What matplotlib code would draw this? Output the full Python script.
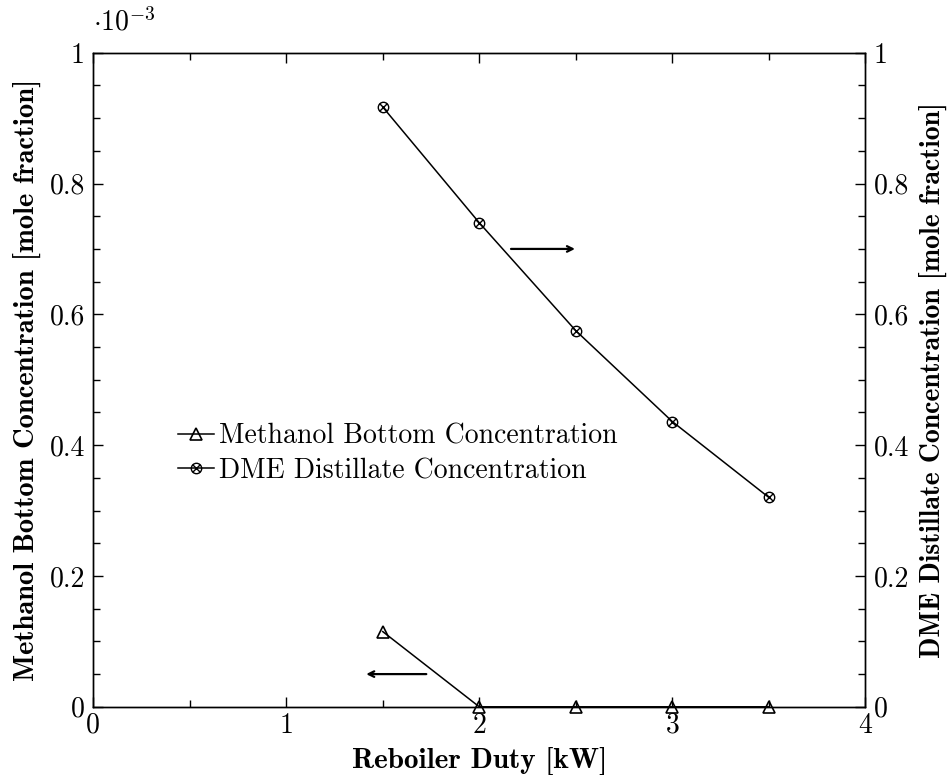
import numpy as np
import matplotlib
matplotlib.use("Agg")
import matplotlib.pyplot as plt
from matplotlib.path import Path
from matplotlib.ticker import MultipleLocator

plt.rcParams['font.family'] = ['cmr10', 'DejaVu Serif']
plt.rcParams['mathtext.fontset'] = 'cm'
plt.rcParams['axes.formatter.use_mathtext'] = True

# reboiler duty [kW]
duty = [1.5, 2.0, 2.5, 3.0, 3.5]
# methanol in bottoms [mole fraction, x1e-3]
methanol_bottom = [0.115, 0.0, 0.0, 0.0, 0.0]
# DME in distillate [mole fraction]
dme_distillate = [0.917, 0.740, 0.575, 0.436, 0.320]

# circle with a cross inside
_d = np.sqrt(0.5)
otimes = Path.make_compound_path(
    Path.unit_circle(),
    Path([(-_d, -_d), (_d, _d)], [Path.MOVETO, Path.LINETO]),
    Path([(-_d, _d), (_d, -_d)], [Path.MOVETO, Path.LINETO]),
)

fig = plt.figure(figsize=(9.5, 7.75), dpi=100)
ax = fig.add_axes([0.098, 0.088, 0.813, 0.844])
ax2 = ax.twinx()

l1, = ax.plot(duty, methanol_bottom, color='black', lw=1.1, marker='^',
              markersize=8, markerfacecolor='none', markeredgewidth=1.2,
              label='Methanol Bottom Concentration', clip_on=False)
l2, = ax2.plot(duty, dme_distillate, color='black', lw=1.1, marker=otimes,
               markersize=7.5, markerfacecolor='none', markeredgewidth=1.0,
               label='DME Distillate Concentration', clip_on=False)

ax.set_xlim(0, 4)
ax.set_ylim(0, 1)
ax2.set_ylim(0, 1)

for a in (ax, ax2):
    a.xaxis.set_major_locator(MultipleLocator(1))
    a.xaxis.set_minor_locator(MultipleLocator(0.5))
    a.yaxis.set_major_locator(MultipleLocator(0.2))
    a.yaxis.set_minor_locator(MultipleLocator(0.05))
    a.tick_params(which='both', direction='in', labelsize=20, width=1.0)
    a.tick_params(which='major', length=7)
    a.tick_params(which='minor', length=5)
    for s in a.spines.values():
        s.set_linewidth(1.0)

ax.tick_params(axis='x', which='both', top=True, pad=4)
ax.tick_params(axis='y', which='both', left=True, right=False, pad=6)
ax2.tick_params(axis='y', which='both', left=False, right=True, pad=6)


def fmt(v, pos):
    v = round(v, 2)
    if v == 0:
        return '0'
    if v == 1:
        return '1'
    return '%.1f' % v


ax.yaxis.set_major_formatter(fmt)
ax2.yaxis.set_major_formatter(fmt)
ax.xaxis.set_major_formatter(lambda v, pos: '%d' % v)

ax.text(0.0, 1.025, r'$\cdot 10^{-3}$', transform=ax.transAxes, fontsize=20,
        ha='left', va='bottom')

ax.set_xlabel('Reboiler Duty [kW]', fontsize=21, family='cmb10', labelpad=6)
ax.set_ylabel('Methanol Bottom Concentration [mole fraction]', fontsize=20.5,
              family='cmb10', labelpad=6)
ax2.set_ylabel('DME Distillate Concentration [mole fraction]', fontsize=20,
               family='cmb10', rotation=90, labelpad=7)

# arrows pointing to the axis each curve belongs to
ax.annotate('', xy=(1.40, 0.05), xytext=(1.74, 0.05),
            arrowprops=dict(arrowstyle='->', color='black', lw=1.6))
ax2.annotate('', xy=(2.51, 0.70), xytext=(2.15, 0.70),
             arrowprops=dict(arrowstyle='->', color='black', lw=1.6))

ax2.legend([l1, l2], [l1.get_label(), l2.get_label()], loc='upper left',
           bbox_to_anchor=(0.078, 0.472), frameon=False, fontsize=20,
           handlelength=1.3, handletextpad=0.15, labelspacing=0.3)

fig.savefig('out.png', dpi=100)
